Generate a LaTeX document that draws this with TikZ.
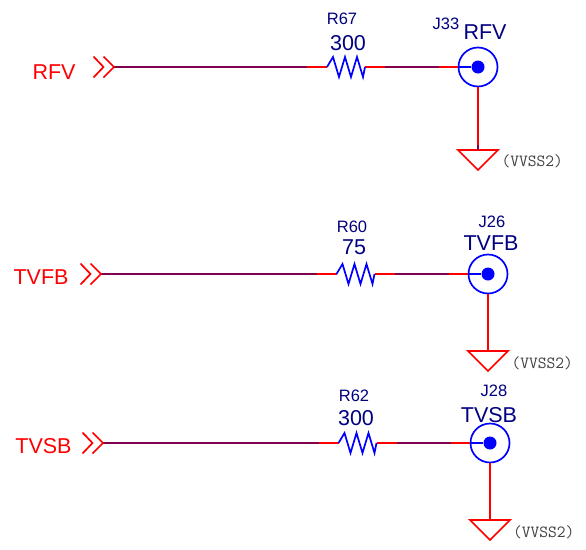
\documentclass[tikz,border=0pt]{standalone}
\usepackage{fontspec}
\setmainfont{Liberation Sans}
\definecolor{wirepurple}{HTML}{800050}
\definecolor{partblue}{HTML}{0000FF}
\definecolor{textnavy}{HTML}{000080}
\tikzset{
  wirered/.style={draw=red,line width=1.7pt},
  wiredark/.style={draw=wirepurple,line width=1.9pt},
  partline/.style={draw=partblue,line width=1.7pt},
  netname/.style={text=red,font=\fontsize{21.5}{21.5}\selectfont,inner sep=0pt},
  refname/.style={text=textnavy,font=\fontsize{16.5}{16.5}\selectfont,inner sep=0pt},
  valname/.style={text=textnavy,font=\fontsize{21.5}{21.5}\selectfont,inner sep=0pt},
  pwrname/.style={text=black!75,font=\ttfamily\fontsize{17}{17}\selectfont,inner sep=0pt,anchor=west},
  conn/.style={circle,draw=partblue,line width=1.7pt,minimum size=39pt,inner sep=0pt},
  pin/.style={circle,fill=partblue,minimum size=13pt,inner sep=0pt}
}
% #1 id, #2 x of chevron tip, #3 y, #4 x of resistor left, #5 x of connector centre, #6 ground top y
\newcommand{\sigrow}[6]{%
  \coordinate (#1tip) at (#2,#3);
  \coordinate (#1rl) at (#4,#3);
  \coordinate (#1rr) at (#4+38,#3);
  \node[conn] (#1c) at (#5,#3) {};
  \node[pin] (#1p) at (#5,#3) {};
  \coordinate (#1g) at (#5,#6);
  \draw[wiredark] (#1tip) -- (#4-20,#3);
  \draw[wirered] (#4-20,#3) -- (#1rl);
  \draw[wirered] (#1rr) -- (#4+58,#3);
  \draw[wiredark] (#4+58,#3) -- (#5-39,#3);
  \draw[wirered] (#5-39,#3) -- (#1c.west);
  \draw[partline] (#1c.west) -- (#1p);
  \draw[partline,line join=miter] (#1rl) -- ++(6,-10) -- ++(6,20) -- ++(6,-20) -- ++(6,20) -- ++(6,-20) -- ++(6,20) -- (#1rr);
  \draw[wirered] (#1c.south) -- (#1g);
  \draw[draw=red,line width=1.7pt,line join=miter] (#5-20,#6) -- (#5+20,#6) -- (#5,#6+20) -- cycle;
  \draw[draw=red,line width=1.7pt] (#2-20.5,#3-10.5) -- (#2-10.5,#3) -- (#2-20.5,#3+10.5);
  \draw[draw=red,line width=1.7pt] (#2-10.5,#3-10.5) -- (#2,#3) -- (#2-10.5,#3+10.5);
}
\begin{document}
\begin{tikzpicture}[x=1pt,y=-1pt]
\useasboundingbox (0,0) rectangle (586,549);
\sigrow{a}{114}{67}{327}{478}{150}
\sigrow{b}{101}{274}{336.5}{488}{351}
\sigrow{c}{103}{443}{338.5}{490}{520}
\draw[wiredark] (478,145) -- (ag);
\node[netname] (n1) at (54,72) {RFV};
\node[netname] (n2) at (41,277) {TVFB};
\node[netname] (n3) at (43.5,446) {TVSB};
\node[refname] (r1) at (342,19) {R67};
\node[valname] (v1) at (348,43) {300};
\node[refname] (j1) at (446,23.5) {J33};
\node[valname] (t1) at (485,32) {RFV};
\node[refname] (r2) at (352,227) {R60};
\node[valname] (v2) at (354,247) {75};
\node[refname] (j2) at (492,221.5) {J26};
\node[valname] (t2) at (491,243) {TVFB};
\node[refname] (r3) at (354,396) {R62};
\node[valname] (v3) at (356,418) {300};
\node[refname] (j3) at (494,390.5) {J28};
\node[valname] (t3) at (489,415.5) {TVSB};
\node[pwrname] (p1) at (501.5,161) {(VVSS2)};
\node[pwrname] (p2) at (511.5,363) {(VVSS2)};
\node[pwrname] (p3) at (513,532) {(VVSS2)};
\end{tikzpicture}
\end{document}
